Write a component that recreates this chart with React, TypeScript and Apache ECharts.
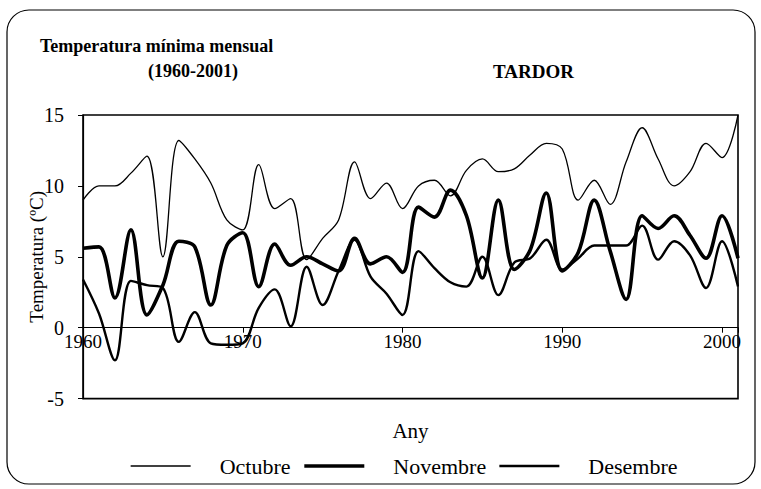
import React, { useEffect, useRef } from "react";
import * as echarts from "echarts";

const years = [
  1960, 1961, 1962, 1963, 1964, 1965, 1966, 1967, 1968, 1969,
  1970, 1971, 1972, 1973, 1974, 1975, 1976, 1977, 1978, 1979,
  1980, 1981, 1982, 1983, 1984, 1985, 1986, 1987, 1988, 1989,
  1990, 1991, 1992, 1993, 1994, 1995, 1996, 1997, 1998, 1999,
  2000, 2001,
];

const octubre = [
  9.0, 10.0, 10.0, 10.9, 12.1, 5.0, 13.2, 11.9, 10.2, 7.6,
  6.9, 11.5, 8.4, 9.1, 4.8, 6.3, 7.6, 11.7, 9.1, 10.2,
  8.4, 10.0, 10.4, 9.3, 11.1, 11.9, 11.0, 11.2, 12.2, 13.0,
  12.6, 9.0, 10.4, 8.7, 11.7, 14.1, 11.9, 10.0, 11.0, 13.0,
  12.0, 15.0,
];

const novembre = [
  5.6, 5.7, 2.1, 6.9, 0.9, 3.0, 6.1, 5.7, 1.6, 5.8,
  6.7, 2.9, 5.9, 4.4, 5.0, 4.5, 4.0, 6.3, 4.5, 5.0,
  3.9, 8.5, 7.8, 9.7, 7.9, 3.5, 9.0, 4.1, 5.5, 9.5,
  4.0, 5.3, 9.0, 5.4, 2.0, 7.9, 7.0, 7.9, 6.5, 4.9,
  7.9, 4.9,
];

const desembre = [
  3.4, 1.0, -2.3, 3.3, 3.0, 2.8, -1.0, 1.1, -1.1, -1.2,
  -1.1, 1.4, 2.7, 0.1, 4.3, 1.6, 4.0, 6.2, 3.6, 2.4,
  0.9, 5.4, 4.2, 3.2, 2.9, 5.0, 2.3, 4.6, 4.9, 6.2,
  4.1, 4.9, 5.8, 5.8, 5.8, 7.2, 4.8, 6.1, 5.1, 2.8,
  6.1, 2.9,
];

const xTickLabels = ["1960", "1970", "1980", "1990", "2000"];
const seriesNames = ["Octubre", "Novembre", "Desembre"];
const lineWidths = [1.3, 3.6, 2.4];

const FONT = "'Liberation Serif', 'Times New Roman', serif";

export default function App() {
  const ref = useRef<HTMLDivElement>(null);

  useEffect(() => {
    if (!ref.current) return;
    const chart = echarts.init(ref.current, null, { renderer: "svg" });
    const pair = (vals: number[]) => years.map((y, i) => [y, vals[i]]);
    const all = [octubre, novembre, desembre];

    const gridTop = 115;
    const gridBottomPx = 398.6;
    const yMin = -5;
    const yMax = 15;
    const zeroPx = gridTop + ((yMax - 0) / (yMax - yMin)) * (gridBottomPx - gridTop);
    const xOffset = -(gridBottomPx - zeroPx);

    chart.setOption({
      animation: false,
      backgroundColor: "#ffffff",
      textStyle: { fontFamily: FONT, color: "#000" },
      graphic: [
        {
          type: "rect",
          shape: { x: 7, y: 10, width: 748, height: 474, r: 22 },
          style: { fill: "none", stroke: "#000", lineWidth: 1.2 },
          silent: true,
        },
        {
          type: "text",
          left: 40,
          top: 37,
          style: {
            text: "Temperatura mínima mensual",
            font: `bold 18px ${FONT}`,
            fill: "#000",
          },
        },
        {
          type: "text",
          left: 148,
          top: 62,
          style: {
            text: "(1960-2001)",
            font: `bold 18px ${FONT}`,
            fill: "#000",
          },
        },
        {
          type: "text",
          left: 493,
          top: 62,
          style: {
            text: "TARDOR",
            font: `bold 19px ${FONT}`,
            fill: "#000",
          },
        },
      ],
      grid: {
        left: 83,
        right: 23,
        top: gridTop,
        bottom: 489 - gridBottomPx,
        show: true,
        borderColor: "#000",
        borderWidth: 1.6,
        containLabel: false,
      },
      legend: {
        data: seriesNames.map((name, k) => ({
          name,
          lineStyle: { width: lineWidths[k], color: "#000" },
        })),
        itemStyle: { opacity: 0 },
        left: 125,
        top: 450,
        itemWidth: 60,
        itemHeight: 14,
        itemGap: 12,
        textStyle: {
          fontFamily: FONT,
          fontSize: 22,
          color: "#000",
          padding: [0, 0, 0, 24],
        },
      },
      xAxis: {
        type: "value",
        min: 1960,
        max: 2001,
        interval: 10,
        offset: xOffset,
        name: "Any",
        nameLocation: "middle",
        nameGap: 93,
        nameMoveOverlap: false,
        nameTextStyle: { fontFamily: FONT, fontSize: 21, color: "#000" },
        axisLine: { show: true, onZero: false, lineStyle: { color: "#000", width: 1.2 } },
        axisTick: { show: true, length: 5, lineStyle: { color: "#000" } },
        axisLabel: {
          fontFamily: FONT,
          fontSize: 19,
          color: "#000",
          margin: 4,
          formatter: (v: number) => {
            const s = String(Math.round(v));
            return xTickLabels.indexOf(s) >= 0 ? s : "";
          },
        },
        splitLine: { show: false },
      },
      yAxis: {
        type: "value",
        min: yMin,
        max: yMax,
        interval: 5,
        name: "Temperatura (ºC)",
        nameLocation: "middle",
        nameRotate: 90,
        nameGap: 37,
        nameMoveOverlap: false,
        nameTextStyle: { fontFamily: FONT, fontSize: 19, color: "#000" },
        axisLine: { show: true, onZero: false, lineStyle: { color: "#000", width: 1.2 } },
        axisTick: { show: true, length: 5, lineStyle: { color: "#000" } },
        axisLabel: { fontFamily: FONT, fontSize: 20, color: "#000", margin: 19 },
        splitLine: { show: false },
      },
      series: seriesNames.map((name, k) => ({
        name,
        type: "line",
        data: pair(all[k]),
        smooth: 0.35,
        symbol: "none",
        lineStyle: { color: "#000", width: lineWidths[k] },
        itemStyle: { color: "#000" },
      })),
    });

    return () => chart.dispose();
  }, []);

  return (
    <div
      ref={ref}
      style={{ position: "absolute", left: 0, top: 0, width: 761, height: 489 }}
    />
  );
}
